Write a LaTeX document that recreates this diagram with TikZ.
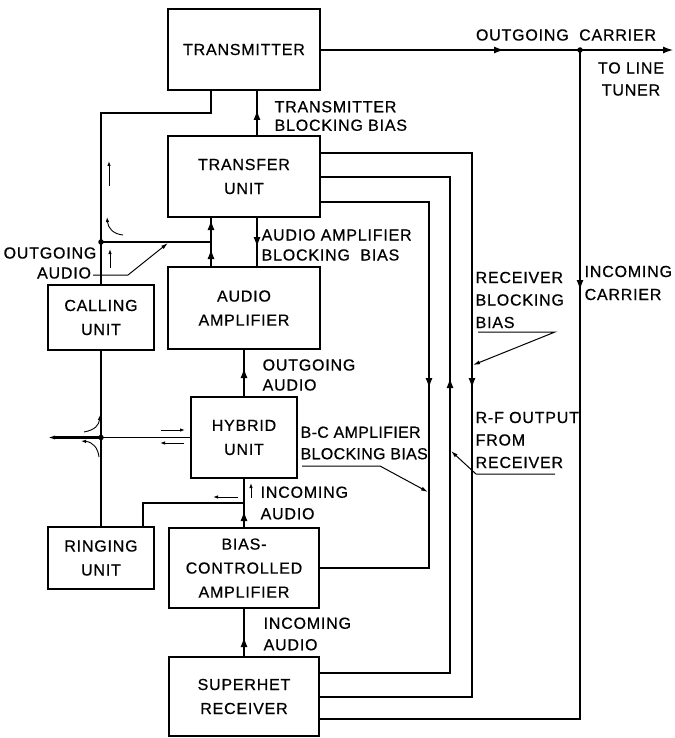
\documentclass[tikz,border=0pt]{standalone}
\usepackage{fontspec}
\setmainfont{Liberation Sans}[LetterSpace=5,FakeBold=0.6]
\usetikzlibrary{arrows.meta}
\newcommand\myarrU[2]{\draw[midtip] (#1,{#2+6}) -- (#1,{#2-5});}
\newcommand\myarrD[2]{\draw[midtip] (#1,{#2-6}) -- (#1,{#2+5});}
\newcommand\myarrR[2]{\draw[midtip] ({#1-6},#2) -- ({#1+5},#2);}
\begin{document}
\begin{tikzpicture}[x=1pt,y=-1pt,
  line width=1.3pt,
  box/.style={draw, line width=1.5pt, inner sep=0pt, align=center,
              font=\fontsize{16}{24}\selectfont},
  lbl/.style={inner sep=0pt, align=left, anchor=west,
              font=\fontsize{16}{21.5}\selectfont},
  midtip/.style={-{Latex[length=10pt,width=7pt]}},
  smalltip/.style={line width=0.9pt,-{Latex[length=5pt,width=3.5pt]}},
  leadtip/.style={line width=1pt,-{Latex[length=7pt,width=4pt]}},
  dot/.style={circle, fill, inner sep=0pt, minimum size=5.5pt}
  ]
\useasboundingbox (0,0) rectangle (674,738);

% ---------- boxes ----------
\node[box, minimum width=152pt, minimum height=81pt] (tx) at (244,49.5) {TRANSMITTER};
\node[box, minimum width=152pt, minimum height=81pt] (tu) at (244,176.5) {TRANSFER\\UNIT};
\node[box, minimum width=152pt, minimum height=82pt] (aa) at (244,308) {AUDIO\\AMPLIFIER};
\node[box, minimum width=106pt, minimum height=65pt] (cu) at (101,317.5) {CALLING\\UNIT};
\node[box, minimum width=106pt, minimum height=81pt] (hy) at (244,437.5) {HYBRID\\UNIT};
\node[box, minimum width=106pt, minimum height=62pt] (ru) at (101,558) {RINGING\\UNIT};
\node[box, minimum width=150pt, minimum height=80pt] (bc) at (244,568) {BIAS-\\CONTROLLED\\AMPLIFIER};
\node[box, minimum width=150pt, minimum height=79pt] (sr) at (244,696.5) {SUPERHET\\RECEIVER};

% ---------- coordinates ----------
\coordinate (cj) at (580,50);
\coordinate (outE) at (673,50);
\coordinate (cb) at (580,719);
\coordinate (k1) at (211,113);
\coordinate (k2) at (101,113);
\coordinate (ja) at (211,242);
\coordinate (xb) at (257,0);
\coordinate (jh) at (101,437.5);
\coordinate (lineW) at (47,437.5);
\coordinate (rb) at (244,503);
\coordinate (rc) at (143,503);
\coordinate (o1) at (472,153);
\coordinate (o2) at (472,697);
\coordinate (m1) at (450,177);
\coordinate (m2) at (450,673);
\coordinate (i1) at (429,202);
\coordinate (i2) at (429,568);

% ---------- outgoing / incoming carrier ----------
\draw[-{Latex[length=10pt,width=7pt]}] (tx.east |- cj) -- (outE);
\myarrR{499}{50}
\draw (cj) -- (cb) -- (cb -| sr.east);
\myarrD{580}{285}
\node[dot] (cjd) at (cj) {};

% ---------- transmitter blocking bias ----------
\draw (tu.north -| xb) -- (tx.south -| xb);
\myarrU{257}{115}

% ---------- transmitter / calling loop ----------
\draw (tx.south -| k1) -- (k1) -- (k2) -- (cu.north);
\draw (k2 |- ja) -- (ja);
\node[dot] (jod) at (k2 |- ja) {};
\draw (aa.north -| ja) -- (tu.south -| ja);
\myarrU{211}{225}
\myarrU{211}{254}

% audio amplifier blocking bias
\draw (tu.south -| xb) -- (aa.north -| xb);
\myarrD{257}{242}

% hybrid -> audio amplifier
\draw (hy.north) -- (aa.south);
\myarrU{244}{373}

% line, calling, ringing
\draw (cu.south) -- (jh) -- (ru.north);
\draw (hy.west) -- (jh);
\draw[line width=2.2pt,-{Latex[length=8pt,width=4pt]}] (jh) -- (lineW);
\node[dot] (jhd) at (jh) {};

% receiver chain
\draw (sr.north) -- (bc.south);
\myarrU{244}{642}
\draw (bc.north) -- (hy.south);
\myarrU{244}{516}
\draw (rb) -- (rc) -- (rc |- ru.north);

% feedback loops
\draw (tu.east |- o1) -- (o1) -- (o2) -- (sr.east |- o2);
\myarrD{472}{383}
\draw (sr.east |- m2) -- (m2) -- (m1) -- (tu.east |- m1);
\myarrU{450}{383}
\draw (tu.east |- i1) -- (i1) -- (i2) -- (bc.east |- i2);
\myarrD{429}{383}

% ---------- small signal arrows ----------
\draw[smalltip] (109,186) -- (109,161);
\draw[smalltip] (123,235) .. controls (113,234) and (108,228) .. (107,217);
\draw[smalltip] (110,268) -- (110,249);
\draw[smalltip] (84,432) .. controls (95,430) and (99,425) .. (100,415);
\draw[smalltip] (99,457) .. controls (98,448) and (93,442) .. (81,441);
\draw[smalltip] (161,430) -- (185,430);
\draw[smalltip] (184,443) -- (160,443);
\draw[smalltip] (251,498) -- (251,483);
\draw[smalltip] (238,497) -- (213,497);

% ---------- label leaders ----------
\draw[leadtip] (93,275) -- (128,275) -- (168,243);
\draw[leadtip] (478,332) -- (555,332) -- (473,365);
\draw[leadtip] (555,474) -- (476,474) -- (451,451);
\draw[leadtip] (302,466) -- (380,466) -- (428,492);

% ---------- labels ----------
\node[inner sep=0pt, font=\fontsize{16}{21.5}\selectfont] (t1) at (566,35) {OUTGOING \ CARRIER};
\node[inner sep=0pt, align=center, font=\fontsize{16}{22}\selectfont] (t2) at (631,79) {TO LINE\\TUNER};
\node[lbl, font=\fontsize{16}{18.5}\selectfont] (t3) at (274,116) {TRANSMITTER\\BLOCKING BIAS};
\node[lbl, font=\fontsize{16}{20}\selectfont] (t4) at (261,245) {AUDIO AMPLIFIER\\BLOCKING \ BIAS};
\node[inner sep=0pt, align=right, anchor=east, font=\fontsize{16}{20}\selectfont] (t5) at (97,263) {OUTGOING\\AUDIO\,\,};
\node[lbl, font=\fontsize{16}{20}\selectfont] (t6) at (262,375) {OUTGOING\\AUDIO};
\node[lbl, font=\fontsize{16}{21.5}\selectfont\addfontfeature{LetterSpace=2}] (t7) at (300,443) {B-C AMPLIFIER\\BLOCKING BIAS};
\node[lbl] (t8) at (260,503) {INCOMING\\AUDIO};
\node[lbl] (t9) at (263,634) {INCOMING\\AUDIO};
\node[lbl, font=\fontsize{16}{22.5}\selectfont] (t10) at (475,300) {RECEIVER\\BLOCKING\\BIAS};
\node[lbl, font=\fontsize{16}{22.5}\selectfont] (t11) at (475,440) {R-F OUTPUT\\FROM\\RECEIVER};
\node[lbl, font=\fontsize{16}{23}\selectfont] (t12) at (584,283) {INCOMING\\CARRIER};
\end{tikzpicture}
\end{document}
